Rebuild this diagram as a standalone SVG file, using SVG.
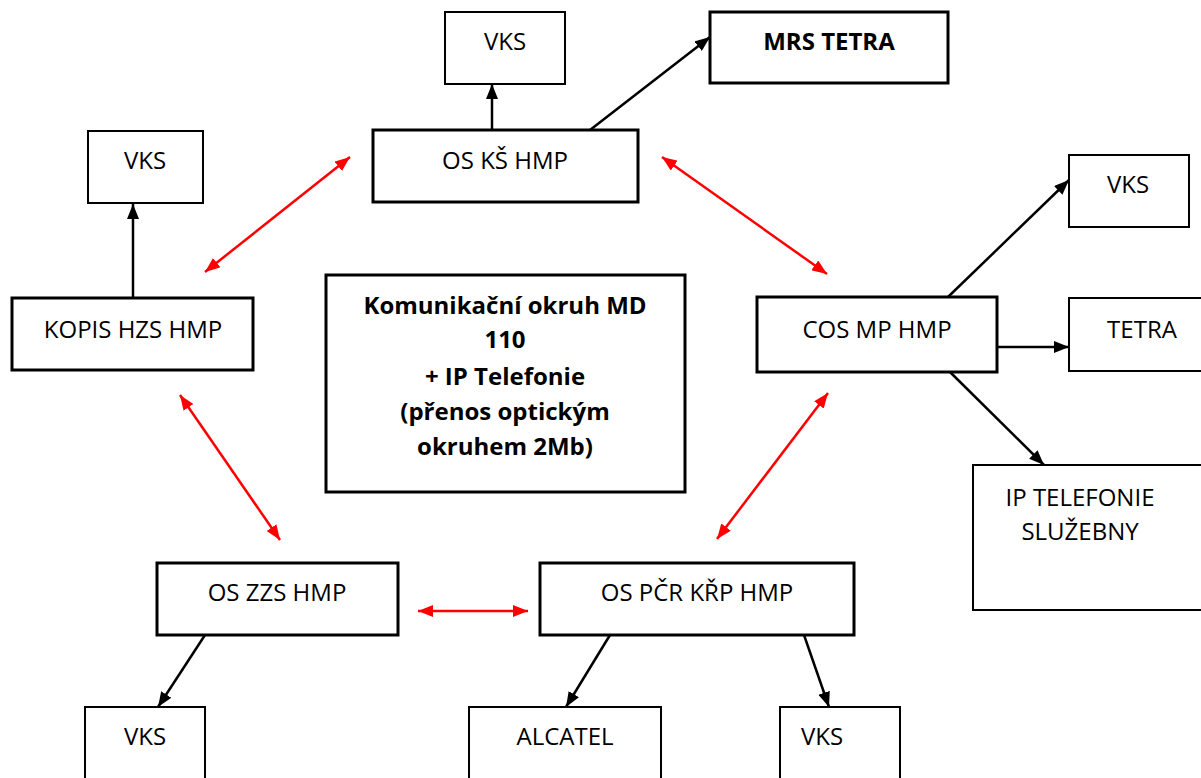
<svg xmlns="http://www.w3.org/2000/svg" width="1201" height="778" viewBox="0 0 1201 778">
<defs>
<marker id="ab" viewBox="0 0 15 12" refX="15" refY="6" markerWidth="15" markerHeight="12" markerUnits="userSpaceOnUse" orient="auto-start-reverse"><path d="M0,0 L15,6 L0,12 Z" fill="#000"/></marker>
<marker id="ar" viewBox="0 0 15 12" refX="15" refY="6" markerWidth="15" markerHeight="12" markerUnits="userSpaceOnUse" orient="auto-start-reverse"><path d="M0,0 L15,6 L0,12 Z" fill="#f00"/></marker>
<style>
.thick{fill:#fff;stroke:#000;stroke-width:3}
.thin{fill:#fff;stroke:#000;stroke-width:2}
text{font-family:"Open Sans","Noto Sans",sans-serif;font-size:24px;fill:#000;text-anchor:middle}
.b{font-weight:bold}
.bl{stroke:#000;stroke-width:2.5;fill:none;marker-end:url(#ab)}
.rd{stroke:#f00;stroke-width:2.5;fill:none;marker-end:url(#ar);marker-start:url(#ar)}
</style>
</defs>
<rect width="1201" height="778" fill="#fff"/>
<g id="connectors">
<line class="bl" x1="492" y1="130" x2="492" y2="84"/>
<line class="bl" x1="590" y1="130" x2="710" y2="37"/>
<line class="bl" x1="133" y1="298" x2="133" y2="204"/>
<line class="bl" x1="948" y1="297" x2="1069" y2="180"/>
<line class="bl" x1="997" y1="347" x2="1069" y2="347"/>
<line class="bl" x1="950" y1="372" x2="1044" y2="465"/>
<line class="bl" x1="205" y1="635" x2="158" y2="707"/>
<line class="bl" x1="610" y1="635" x2="566" y2="707"/>
<line class="bl" x1="804" y1="635" x2="829" y2="707"/>
<line class="rd" x1="205" y1="272" x2="350" y2="157"/>
<line class="rd" x1="662" y1="157" x2="827" y2="274"/>
<line class="rd" x1="180" y1="395" x2="280" y2="540"/>
<line class="rd" x1="717" y1="539" x2="828" y2="393"/>
<line class="rd" x1="418" y1="611" x2="528" y2="611"/>
</g>
<g id="vks-top"><rect class="thin" x="445" y="12" width="120" height="72"/><text x="505" y="50">VKS</text></g>
<g id="mrs-tetra"><rect class="thick" x="710" y="12" width="238" height="71"/><text class="b" x="829" y="50">MRS TETRA</text></g>
<g id="os-ks-hmp"><rect class="thick" x="373" y="130" width="265" height="72"/><text x="505" y="169">OS KŠ HMP</text></g>
<g id="vks-left"><rect class="thin" x="88" y="131" width="115" height="72"/><text x="145" y="169">VKS</text></g>
<g id="kopis"><rect class="thick" x="12" y="298" width="241" height="72"/><text x="133" y="338">KOPIS HZS HMP</text></g>
<g id="center"><rect class="thick" x="326" y="275" width="359" height="217"/>
<text class="b" x="505" y="314">Komunikační okruh MD</text>
<text class="b" x="505" y="348">110</text>
<text class="b" x="505" y="385">+ IP Telefonie</text>
<text class="b" x="505" y="420">(přenos optickým</text>
<text class="b" x="505" y="455">okruhem 2Mb)</text></g>
<g id="cos-mp-hmp"><rect class="thick" x="757" y="297" width="240" height="75"/><text x="877" y="338">COS MP HMP</text></g>
<g id="vks-right"><rect class="thin" x="1069" y="155" width="120" height="72"/><text x="1128" y="193">VKS</text></g>
<g id="tetra"><rect class="thin" x="1069" y="298" width="140" height="73"/><text x="1142" y="338">TETRA</text></g>
<g id="ip-telefonie"><rect class="thin" x="973" y="465" width="240" height="145"/><text x="1080" y="506">IP TELEFONIE</text><text x="1080" y="540">SLUŽEBNY</text></g>
<g id="os-zzs-hmp"><rect class="thick" x="157" y="563" width="241" height="72"/><text x="277" y="601">OS ZZS HMP</text></g>
<g id="os-pcr-krp-hmp"><rect class="thick" x="540" y="563" width="314" height="72"/><text x="697" y="601">OS PČR KŘP HMP</text></g>
<g id="vks-bottom-left"><rect class="thin" x="85" y="707" width="120" height="80"/><text x="145" y="745">VKS</text></g>
<g id="alcatel"><rect class="thin" x="469" y="707" width="192" height="80"/><text x="565" y="745">ALCATEL</text></g>
<g id="vks-bottom-right"><rect class="thin" x="780" y="707" width="120" height="80"/><text x="822" y="745">VKS</text></g>
</svg>
